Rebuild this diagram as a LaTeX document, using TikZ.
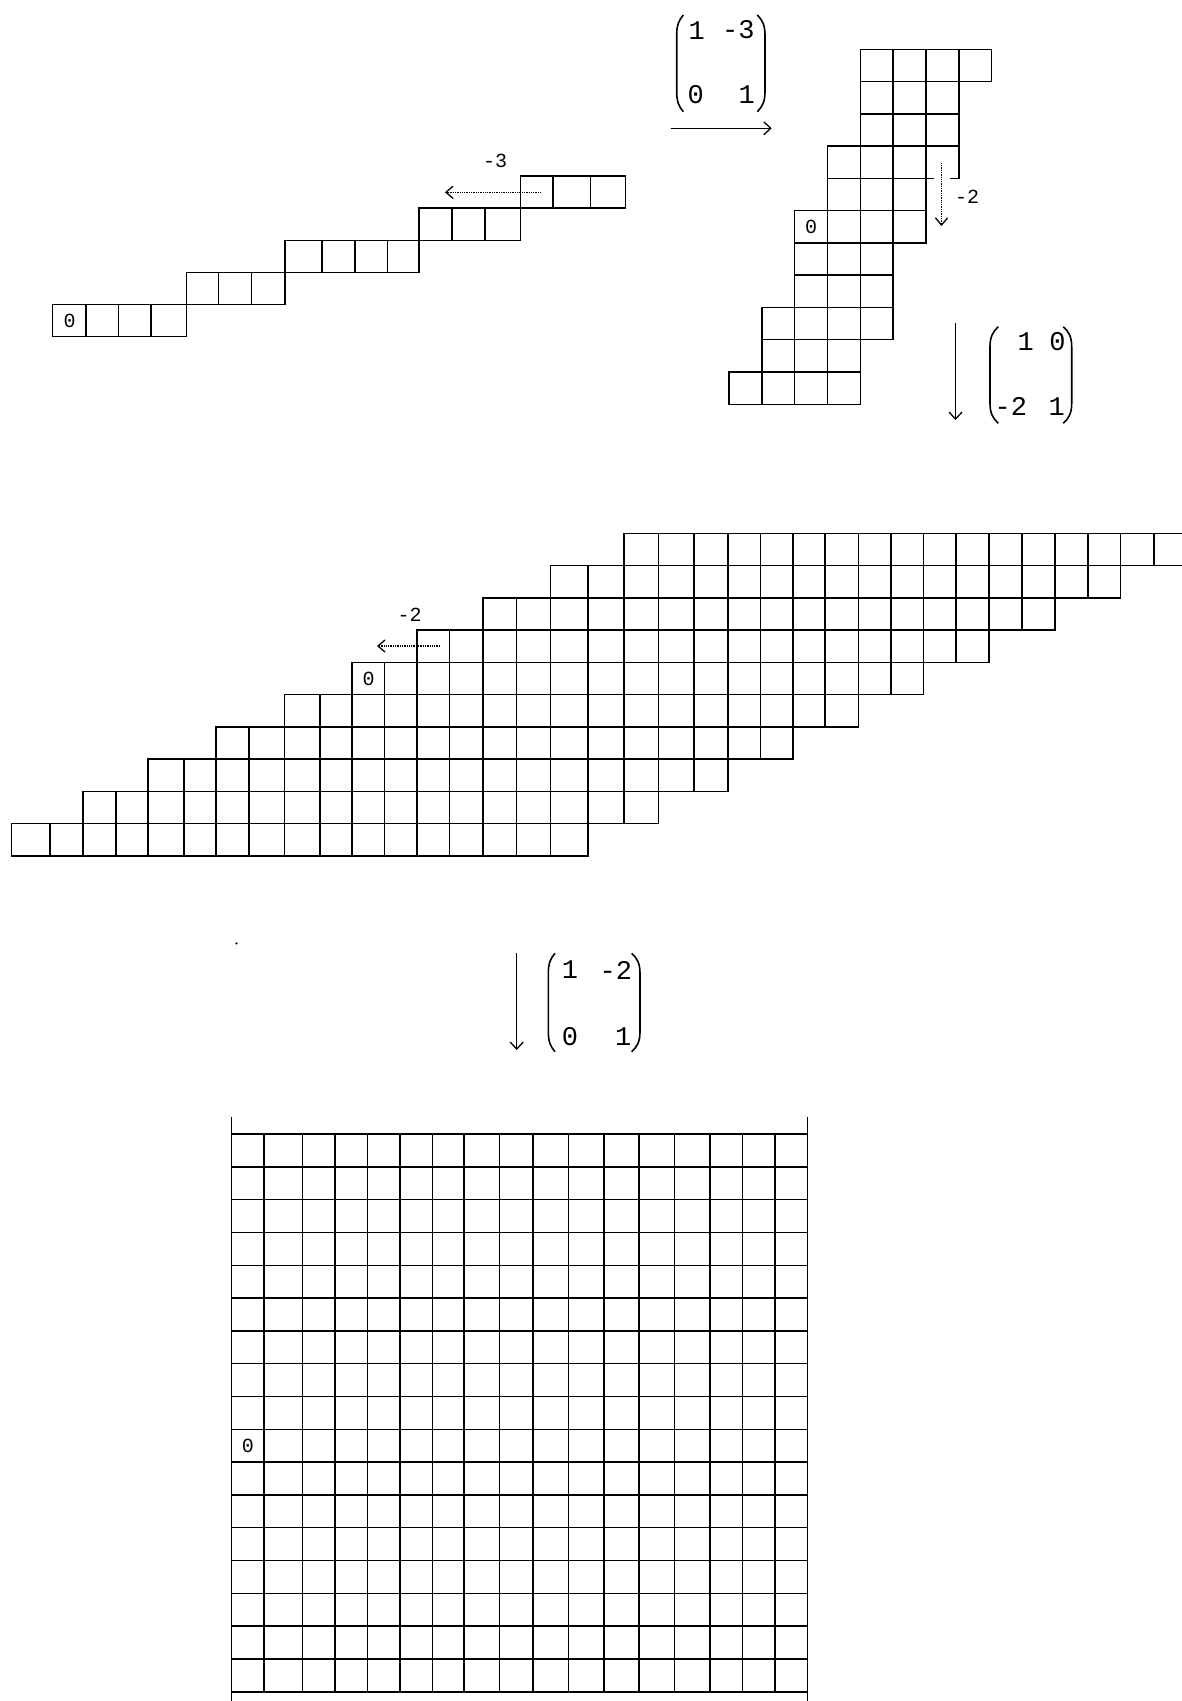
\documentclass[tikz,border=0pt]{standalone}
\usepackage{fontspec}
\setmainfont{Liberation Mono}
\usetikzlibrary{arrows.meta}
\newcommand{\myParen}[4]{% #1 end x, #2 middle x, #3 top y, #4 bottom y
  \draw[pline] (#1,#3) .. controls ({#2+0.35*(#1-#2)},{#3+5}) and (#2,{#3+10}) .. (#2,{#3+20})
    -- (#2,{#4-20}) .. controls (#2,{#4-10}) and ({#2+0.35*(#1-#2)},{#4-5}) .. (#1,#4);}
\begin{document}
\begin{tikzpicture}[x=1pt,y=-1pt,
  cellline/.style={line width=1.45pt, black},
  pline/.style={line width=1.6pt, black},
  mat/.style={inner sep=0pt, font=\fontsize{27}{27}\selectfont},
  lab/.style={inner sep=0pt, font=\fontsize{20}{20}\selectfont},
  maparrow/.style={line width=1.3pt, -{Straight Barb[length=7pt,width=13pt,line width=1.3pt]}},
  shiftarrow/.style={line width=1.3pt, densely dotted, -{Straight Barb[length=7pt,width=12pt,line width=1.3pt,line cap=round]}}]
\useasboundingbox (0,0) rectangle (1182,1701);
\clip (0,0) rectangle (1182,1701);
\fill[white] (0,0) rectangle (1182,1701);

% ---------- Figure 1 ----------
\def\axs{{52.6,85.9,118.5,151,186.6,218.7,251.6,284.9,322,355,387.5,418.9,452.2,485,520.3,552.8,590.3,625.5}}
\def\ay{336.7}\def\ady{32.14}
\foreach \r/\a/\b in {0/0/3,1/4/6,2/7/10,3/11/13,4/14/16}{
  \foreach \c in {\a,...,\b}{
    \pgfmathtruncatemacro\cn{\c+1}
    \pgfmathsetmacro\xl{\axs[\c]}
    \pgfmathsetmacro\xr{\axs[\cn]}
    \draw[cellline] (\xl,{\ay-\r*\ady}) rectangle (\xr,{\ay-(\r+1)*\ady});
  }}
\node[lab] (o1) at (69.5,321) {0};
\node[lab] (l1) at (495,161) {-3};
\coordinate (d1s) at (541.3,192.3);
\coordinate (d1e) at (444.9,192.3);
\draw[shiftarrow] (d1s) -- (d1e);

% ---------- Matrix 1 and arrow ----------
\node[mat] (m1a) at (696.7,30.8) {1};
\node[mat] (m1b) at (738.3,30) {-3};
\node[mat] (m1c) at (695.8,94.5) {0};
\node[mat] (m1d) at (746.7,94.5) {1};
\myParen{683.3}{676.7}{15}{111.7}
\myParen{757.3}{765}{15}{111.7}
\coordinate (a1s) at (670.7,128.3);
\coordinate (a1e) at (771.7,128.3);
\draw[maparrow] (a1s) -- (a1e);

% ---------- Figure 2 ----------
\def\bx{729}\def\bdx{32.84}\def\by{49.3}\def\bdy{32.27}
\foreach \t/\a/\b in {0/4/7,1/4/6,2/4/6,3/3/6,4/3/5,5/2/5,6/2/4,7/2/4,8/1/4,9/1/3,10/0/3}{
  \foreach \c in {\a,...,\b}{
    \draw[cellline] ({\bx+\c*\bdx},{\by+\t*\bdy}) rectangle ({\bx+(\c+1)*\bdx},{\by+(\t+1)*\bdy});
  }}
\node[lab] (o2) at (811,226.7) {0};
\draw[white, line width=3pt] (933.5,{\by+4*\bdy}) -- (950,{\by+4*\bdy});
\node[lab] (l2) at (967,196.7) {-2};
\coordinate (d2s) at (941.5,162.7);
\coordinate (d2e) at (941.5,226);
\draw[shiftarrow] (d2s) -- (d2e);

% ---------- Matrix 2 and arrow ----------
\coordinate (a2s) at (955.5,323.3);
\coordinate (a2e) at (955.5,420);
\draw[maparrow] (a2s) -- (a2e);
\node[mat] (m2a) at (1025.8,341.7) {1};
\node[mat] (m2b) at (1057.5,341.7) {0};
\node[mat] (m2c) at (1010.8,406.7) {-2};
\node[mat] (m2d) at (1056.7,406.7) {1};
\myParen{998.3}{990}{326.7}{423.3}
\myParen{1063.3}{1071.7}{326.7}{423.3}

% ---------- Figure 3 ----------
\def\cxs{{11.5,49.8,83,116,148.1,184.1,216.2,249.1,284.3,319.9,352.1,384.6,417.1,449.7,483,516.6,550.3,588,624.1,658.7,694,727.8,760.4,793,824.9,858.3,890.9,923.6,956.2,988.8,1022.2,1054.9,1087.9,1120.5,1153.9,1187.5}}
\def\cy{856}\def\cdy{32.27}
\foreach \r in {0,...,9}{
  \pgfmathtruncatemacro\lo{2*\r}
  \pgfmathtruncatemacro\hi{2*\r+16}
  \foreach \c in {\lo,...,\hi}{
    \pgfmathtruncatemacro\cn{\c+1}
    \pgfmathsetmacro\xl{\cxs[\c]}
    \pgfmathsetmacro\xr{\cxs[\cn]}
    \draw[cellline] (\xl,{\cy-\r*\cdy}) rectangle (\xr,{\cy-(\r+1)*\cdy});
  }}
\node[lab] (o3) at (368.5,679.3) {0};
\node[lab] (l3) at (409.5,615) {-2};
\coordinate (d3s) at (440,646);
\coordinate (d3e) at (377,646);
\draw[shiftarrow] (d3s) -- (d3e);

% stray mark
\fill (236.4,943.4) circle (1.2);

% ---------- Matrix 3 and arrow ----------
\coordinate (a3s) at (516.7,953.3);
\coordinate (a3e) at (516.7,1050);
\draw[maparrow] (a3s) -- (a3e);
\node[mat] (m3a) at (570,970) {1};
\node[mat] (m3b) at (615.8,970) {-2};
\node[mat] (m3c) at (570,1036.7) {0};
\node[mat] (m3d) at (623.3,1036.7) {1};
\myParen{555}{548.3}{953.3}{1051.7}
\myParen{631.7}{640}{953.3}{1051.7}

% ---------- Figure 4 ----------
\def\gxs{{231.5,264,302.3,334.8,367.3,399.9,432.4,464.2,499.4,533,568.3,603.8,639,674.3,709.9,742.4,774.9,807.5}}
\def\gxl{231.5}\def\gxr{807.5}\def\gy{1134}\def\gdy{32.81}
\foreach \i in {0,...,17}{
  \pgfmathsetmacro\xv{\gxs[\i]}
  \draw[cellline] (\xv,\gy) -- (\xv,{\gy+17*\gdy});
  \draw[cellline] (\gxl,{\gy+\i*\gdy}) -- (\gxr,{\gy+\i*\gdy});
}
\draw[cellline] (\gxl,1116.7) -- (\gxl,1701);
\draw[cellline] (\gxr,1116.7) -- (\gxr,1701);
\node[lab] (o4) at (247.8,1445.8) {0};
\end{tikzpicture}
\end{document}
